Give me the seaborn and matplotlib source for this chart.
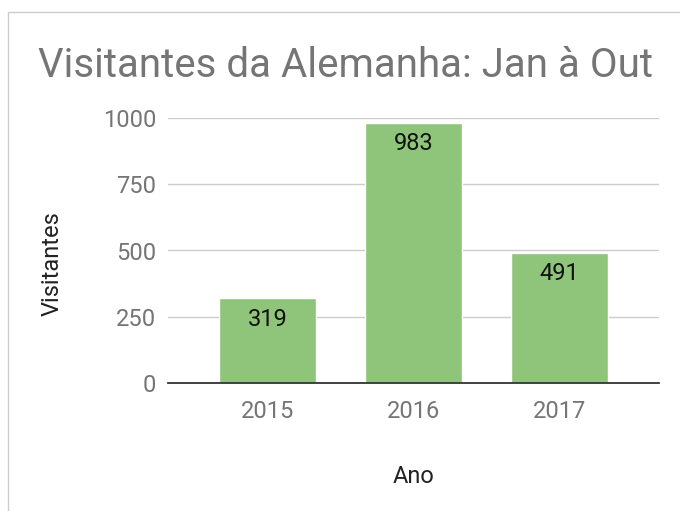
import pandas as pd
import matplotlib
matplotlib.use('Agg')
from matplotlib import pyplot as plt
from matplotlib.lines import Line2D
import seaborn as sns

Anos = ['2015', '2016', '2017']
Visitantes = [319, 983, 491]
YTicks = [0, 250, 500, 750, 1000]

df = pd.DataFrame({'Ano': Anos, 'Visitantes': Visitantes})

sns.set_style('white')
plt.rcParams['font.family'] = ['Roboto', 'DejaVu Sans']

W, H = 680, 511
fig = plt.figure(figsize=(W / 100, H / 100), dpi=100)
ax = fig.add_axes([168 / W, 1 - 383 / H, (659 - 168) / W, (383 - 118) / H])

sns.barplot(data=df, x='Ano', y='Visitantes', color='#8fc57b',
            saturation=1, width=0.66, ax=ax, zorder=2)

ax.set_xlim(-0.68, 2.68)
ax.set_ylim(0, 1000)
ax.set_yticks(YTicks)
ax.yaxis.grid(True, color='#cccccc', linewidth=1, zorder=0)
ax.set_axisbelow(True)
for side in ['top', 'right', 'left']:
    ax.spines[side].set_visible(False)
ax.spines['bottom'].set_color('#333333')
ax.spines['bottom'].set_linewidth(1.3)
ax.tick_params(axis='both', length=0, labelsize=17, colors='#757575')
ax.tick_params(axis='y', pad=8.6)
ax.tick_params(axis='x', pad=12.5)

ax.set_xlabel('Ano', fontsize=17, color='#222222')
ax.set_ylabel('Visitantes', fontsize=17, color='#222222')
ax.xaxis.set_label_coords(0.5, -0.351)
ax.xaxis.label.set_va('center')
ax.yaxis.set_label_coords(-0.236, 0.449)
ax.yaxis.label.set_va('center')

# value labels just below each bar top
for i, v in enumerate(Visitantes):
    ax.annotate(str(v), (i, v), xytext=(0, -19.5), textcoords='offset points',
                ha='center', va='baseline', fontsize=17, color='#111111')

fig.text(345 / W, 1 - 77 / H, 'Visitantes da Alemanha: Jan à Out',
         ha='center', va='baseline', fontsize=29, color='#757575')

# frame of the screenshot (left and top only)
fig.add_artist(Line2D([8 / W, 8 / W], [0, 1 - 12 / H], transform=fig.transFigure,
                      color='#cccccc', linewidth=1))
fig.add_artist(Line2D([8 / W, 1], [1 - 12 / H, 1 - 12 / H], transform=fig.transFigure,
                      color='#cccccc', linewidth=1))

fig.savefig('out.png', dpi=100)
